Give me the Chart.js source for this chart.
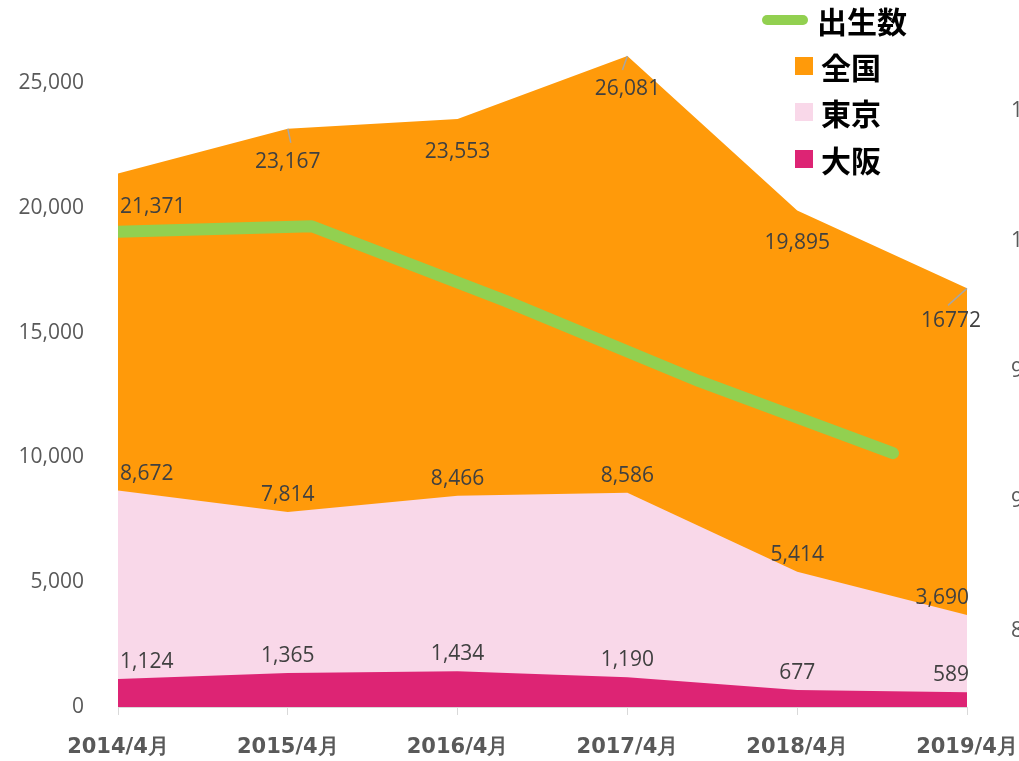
<!DOCTYPE html>
<html>
<head>
<meta charset="utf-8">
<script src="https://cdn.jsdelivr.net/npm/chart.js@4/dist/chart.umd.min.js"></script>
<style>
  html, body { margin: 0; padding: 0; background: #fff; overflow: hidden; }
  #wrap { position: relative; width: 1100px; height: 761px; }
  #legend { position: absolute; left: 0; top: 0; font-family: "Noto Sans CJK JP", sans-serif; font-weight: bold; color: #000; }
  .item { position: absolute; font-size: 30px; line-height: 30px; white-space: nowrap; }
  .sw { position: absolute; }
</style>
</head>
<body>
<div id="wrap">
  <canvas id="c" width="1100" height="761"></canvas>
  <div id="legend"></div>
</div>
<script>
var years = ['2014/4月', '2015/4月', '2016/4月', '2017/4月', '2018/4月', '2019/4月']
var zenkoku = [21371, 23167, 23553, 26081, 19895, 16772]
var tokyo = [8672, 7814, 8466, 8586, 5414, 3690]
var osaka = [1124, 1365, 1434, 1190, 677, 589]
var births = [1003539, 1005677, 976978, 946065, 918400]
var leftTicks = [0, 5000, 10000, 15000, 20000, 25000]
var rightTicks = [850000, 900000, 950000, 1000000, 1050000]

var fmt = v => v.toLocaleString('en-US')

// legend built as html, top right
var legendRows = [
  {name: '出生数', color: '#92d050', line: true, top: 5},
  {name: '全国', color: '#ff9a0a', top: 51},
  {name: '東京', color: '#f9d8e9', top: 97},
  {name: '大阪', color: '#dd2474', top: 144}
]
var lg = document.getElementById('legend')
legendRows.forEach(r => {
  let sw = document.createElement('div')
  sw.className = 'sw'
  if (r.line) {
    sw.style.cssText = 'left:762px;top:' + (r.top + 10) + 'px;width:46px;height:10px;border-radius:5px;background:' + r.color
  } else {
    sw.style.cssText = 'left:795px;top:' + (r.top + 6) + 'px;width:18px;height:18px;background:' + r.color
  }
  lg.appendChild(sw)
  let t = document.createElement('div')
  t.className = 'item'
  t.style.left = (r.line ? 817 : 821) + 'px'
  t.style.top = r.top + 'px'
  t.textContent = r.name
  lg.appendChild(t)
})

// value labels for the three areas
var areaLabels = {
  id: 'areaLabels',
  afterDatasetsDraw(chart) {
    let ctx = chart.ctx
    ctx.save()
    ctx.font = '21px "Open Sans", sans-serif'
    ctx.fillStyle = '#404040'
    ctx.textBaseline = 'middle'
    chart.data.datasets.forEach((ds, di) => {
      if (!ds.labelPos) return
      let meta = chart.getDatasetMeta(di)
      let n = meta.data.length
      meta.data.forEach((pt, i) => {
        let v = ds.data[i]
        let txt = (ds.labelPos == 'below' && i == n - 1) ? String(v) : fmt(v)
        let y = ds.labelPos == 'below' ? pt.y + 33 : pt.y - 17
        let x = pt.x
        ctx.textAlign = 'center'
        if (i == 0) { ctx.textAlign = 'left'; x = pt.x + 2 }
        if (i == n - 1) { ctx.textAlign = 'right'; x = ds.labelPos == 'below' ? pt.x + 14 : pt.x + 2 }
        ctx.fillText(txt, x, y)
        // small leader lines like the original
        if (ds.labelPos == 'below' && i % 2 == 1) {
          ctx.strokeStyle = '#a6a6a6'
          ctx.lineWidth = 1.5
          ctx.beginPath()
          ctx.moveTo(pt.x, pt.y)
          let dx = i == n - 1 ? -19 : (i == 3 ? -5 : 3)
          ctx.lineTo(pt.x + dx, pt.y + (i == n - 1 ? 17 : 14))
          ctx.stroke()
        }
      })
    })
    ctx.restore()
  }
}

var tickFont = {family: '"Open Sans", sans-serif', size: 21}
var noPad = s => { s.paddingTop = 0; s.paddingBottom = 0 }

new Chart(document.getElementById('c'), {
  type: 'line',
  data: {
    labels: years,
    datasets: [{
      label: '出生数',
      data: births.map((v, i) => ({x: i, y: v})),
      xAxisID: 'x2',
      yAxisID: 'y1',
      borderColor: '#92d050',
      borderWidth: 12,
      borderCapStyle: 'round',
      borderJoinStyle: 'round',
      pointRadius: 0,
      fill: false,
      tension: 0,
      order: 0
    }, {
      label: '大阪',
      data: osaka,
      backgroundColor: '#dd2474',
      borderWidth: 0,
      pointRadius: 0,
      fill: 'origin',
      labelPos: 'above',
      order: 1
    }, {
      label: '東京',
      data: tokyo,
      backgroundColor: '#f9d8e9',
      borderWidth: 0,
      pointRadius: 0,
      fill: 'origin',
      labelPos: 'above',
      order: 2
    }, {
      label: '全国',
      data: zenkoku,
      backgroundColor: '#ff9a0a',
      borderWidth: 0,
      pointRadius: 0,
      fill: 'origin',
      labelPos: 'below',
      order: 3
    }]
  },
  options: {
    responsive: false,
    animation: false,
    layout: {padding: {top: 20, left: 0, right: 0, bottom: 3}},
    plugins: {legend: {display: false}, tooltip: {enabled: false}},
    scales: {
      x: {
        type: 'category',
        offset: false,
        afterFit: s => { s.height = 51 },
        border: {display: true, color: '#d9d9d9'},
        grid: {drawOnChartArea: false, color: '#d9d9d9', tickLength: 8},
        ticks: {
          color: '#595959',
          padding: 20,
          maxRotation: 0,
          autoSkip: false,
          font: {family: '"DejaVu Sans", sans-serif', size: 21, weight: 'bold'}
        }
      },
      x2: {
        type: 'linear',
        min: 0,
        max: 4.382,
        display: false
      },
      y: {
        position: 'left',
        min: 0,
        max: 27524,
        afterBuildTicks: s => { s.ticks = leftTicks.map(v => ({value: v})) },
        afterFit: s => { s.width = 118; noPad(s) },
        border: {display: false},
        grid: {display: false},
        ticks: {color: '#595959', padding: 26, font: tickFont, callback: v => fmt(v)}
      },
      y1: {
        position: 'right',
        min: 820770,
        max: 1085000,
        afterBuildTicks: s => { s.ticks = rightTicks.map(v => ({value: v})) },
        afterFit: s => { s.width = 133; noPad(s) },
        border: {display: false},
        grid: {display: false},
        ticks: {color: '#595959', padding: 36, font: tickFont, callback: v => fmt(v)}
      }
    }
  },
  plugins: [areaLabels]
})
</script>
</body>
</html>
